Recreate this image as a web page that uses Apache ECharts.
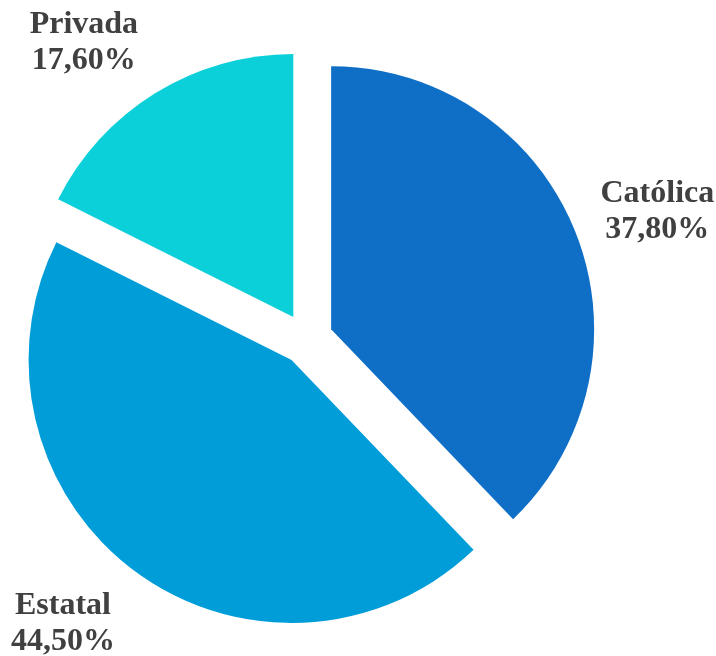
<!DOCTYPE html>
<html>
<head>
<meta charset="utf-8">
<script src="https://cdn.jsdelivr.net/npm/echarts@6/dist/echarts.min.js"></script>
<style>
  html, body { margin: 0; padding: 0; background: #ffffff; }
  #chart { width: 716px; height: 656px; }
</style>
</head>
<body>
<div id="chart"></div>
<script>
// Distribución por tipo de gestión
const categories = ['Católica', 'Estatal', 'Privada'];
const shares = [37.8, 44.5, 17.6];
const sliceColors = ['#0F6FC6', '#009DD9', '#0BD0D9'];

// Label line lengths per slice (hidden lines, used only to place the text)
const lineLen = [51, 65, 59];
const lineLen2 = [-27, -23, -19];

const chart = echarts.init(document.getElementById('chart'), null, { renderer: 'canvas' });

const data = categories.map((name, i) => ({
  name: name,
  value: shares[i],
  selected: true,
  itemStyle: { color: sliceColors[i] },
  select: { itemStyle: { color: sliceColors[i], borderWidth: 0 } },
  labelLine: { show: false, length: lineLen[i], length2: lineLen2[i] }
}));

chart.setOption({
  backgroundColor: '#ffffff',
  animation: false,
  series: [{
    type: 'pie',
    center: [307, 339],
    radius: [0, 263],
    startAngle: 90,
    clockwise: true,
    selectedMode: 'multiple',
    selectedOffset: 26,
    avoidLabelOverlap: false,
    emphasis: { disabled: true },
    itemStyle: { borderWidth: 0 },
    label: {
      show: true,
      position: 'outside',
      formatter: function (p) {
        const pct = p.value.toFixed(2).replace('.', ',') + '%';
        return '{t|' + p.name + '}\n{t|' + pct + '}';
      },
      rich: {
        t: {
          fontFamily: '"Liberation Serif", "Times New Roman", serif',
          fontWeight: 'bold',
          fontSize: 32,
          lineHeight: 36,
          color: '#404040',
          align: 'center'
        }
      }
    },
    labelLine: { show: false },
    data: data
  }]
});
</script>
</body>
</html>
